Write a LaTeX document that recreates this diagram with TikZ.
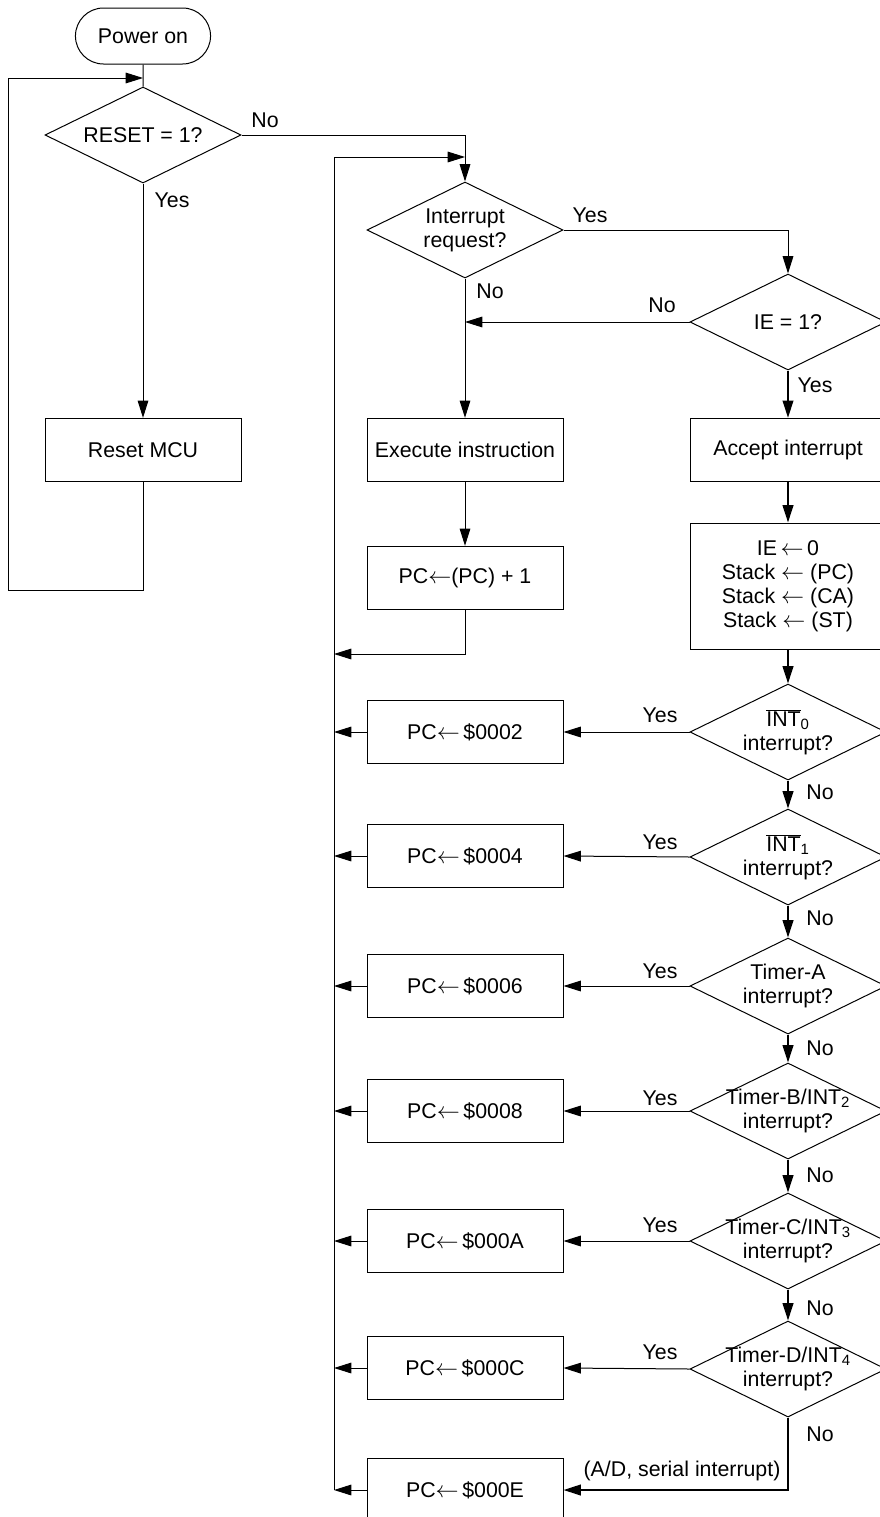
\documentclass[tikz,border=0pt]{standalone}
\usepackage{fontspec}
\setmainfont{Liberation Sans}
\usepackage{tikz}
\usetikzlibrary{arrows.meta, positioning, shapes.geometric, shapes.misc}
\tikzset {
  terminal/.style = {draw, rounded rectangle, minimum width=108pt, minimum height=42pt, line width=0.75pt},
  box/.style = {draw, rectangle, minimum width=147pt, minimum height=47.5pt, align=center, line width=0.75pt},
  decision/.style = {draw, diamond, aspect=2, inner sep=-10pt, minimum width=147pt, minimum height=72pt, align=center, line width=0.75pt},
  line/.style = {-{Triangle[length=13pt, width=8pt]}, line width=0.75pt},
  bline/.style = {line, line width=1.4pt},
  wire/.style = {line width=0.75pt},
  lbl/.style = {inner sep=0pt}
}

\begin{document}
\begin{tikzpicture}[x=0.75pt, y=-0.75pt, font=\fontsize{16}{18}\selectfont]
    \useasboundingbox (0,0) rectangle (879,1517);

    % reset part
    \node[terminal] (power) at (143,36) {Power on};
    \node[decision] (reset) at (143,135) {RESET = 1?};
    \node[box] (mcu) at (143,450) {Reset MCU};
    \coordinate (joinA) at (143,78);
    \coordinate (loopA) at (8,590);

    % main loop
    \node[decision] (request) at (465,230) {Interrupt\\request?};
    \node[box] (exec) at (465,450) {Execute instruction};
    \node[box] (pcinc) at (465,578) {PC$\leftarrow$(PC) + 1};
    \coordinate (busTop) at (334,157);
    \coordinate (busEnd) at (334,1490);
    \coordinate (joinB) at (334,654);

    % interrupt handling
    \node[decision] (ie) at (788,322) {IE = 1?};
    \node[box] (accept) at (788,450) {Accept interrupt};
    \node[box, minimum height=94.5pt] (stack) at (788,586) {IE\,$\leftarrow$\,0\\Stack $\leftarrow$ (PC)\\Stack $\leftarrow$ (CA)\\Stack $\leftarrow$ (ST)};

    \node[decision] (int0) at (788,732) {$\overline{\hbox{INT}}$\textsubscript{0}\\interrupt?};
    \node[decision] (int1) at (788,857) {$\overline{\hbox{INT}}$\textsubscript{1}\\interrupt?};
    \node[decision] (timerA) at (788,986) {Timer-A\\interrupt?};
    \node[decision] (timerB) at (788,1111) {Timer-B/INT\textsubscript{2}\\interrupt?};
    \node[decision] (timerC) at (788,1241) {Timer-C/INT\textsubscript{3}\\interrupt?};
    \node[decision] (timerD) at (788,1369) {Timer-D/INT\textsubscript{4}\\interrupt?};

    \node[box] (pc2) at (465,732) {PC$\leftarrow$\,\$0002};
    \node[box] (pc4) at (465,856) {PC$\leftarrow$\,\$0004};
    \node[box] (pc6) at (465,986) {PC$\leftarrow$\,\$0006};
    \node[box] (pc8) at (465,1111) {PC$\leftarrow$\,\$0008};
    \node[box] (pcA) at (465,1241) {PC$\leftarrow$\,\$000A};
    \node[box] (pcC) at (465,1368) {PC$\leftarrow$\,\$000C};
    \node[box] (pcE) at (465,1490) {PC$\leftarrow$\,\$000E};

    % labels
    \node[lbl] (noReset) at (265,120) {No};
    \node[lbl] (yesReset) at (172,200) {Yes};
    \node[lbl] (yesReq) at (590,215) {Yes};
    \node[lbl] (noReq) at (490,291) {No};
    \node[lbl] (noIE) at (662,305) {No};
    \node[lbl] (yesIE) at (815,385) {Yes};
    \node[lbl] (yes0) at (660,715) {Yes};
    \node[lbl] (yes1) at (660,842) {Yes};
    \node[lbl] (yesA) at (660,971) {Yes};
    \node[lbl] (yesB) at (660,1098) {Yes};
    \node[lbl] (yesC) at (660,1225) {Yes};
    \node[lbl] (yesD) at (660,1352) {Yes};
    \node[lbl] (no0) at (820,792) {No};
    \node[lbl] (no1) at (820,918) {No};
    \node[lbl] (noA) at (820,1048) {No};
    \node[lbl] (noB) at (820,1175) {No};
    \node[lbl] (noC) at (820,1308) {No};
    \node[lbl] (noD) at (820,1434) {No};
    \node[lbl] (serial) at (682,1471) {(A/D, serial interrupt)};

    % connectors
    \draw[wire] (power) -- (reset);
    \draw[line] (reset) -- (mcu);
    \draw[line] (mcu.south) |- (loopA) |- (joinA);
    \draw[line] (reset.east) -| (request.north);
    \draw[line] (busEnd) -- (busTop) -- (request.north |- busTop);
    \draw[line] (request.east) -| (ie.north);
    \draw[line] (request) -- (exec);
    \draw[line] (ie.west) -- (ie.west -| request.south);
    \draw[line] (exec) -- (pcinc);
    \draw[line] (pcinc.south) |- (joinB);

    \draw[bline] (ie) -- (accept);
    \draw[bline] (accept) -- (stack);
    \draw[bline] (stack) -- (int0);
    \draw[bline] (int0) -- (int1);
    \draw[bline] (int1) -- (timerA);
    \draw[bline] (timerA) -- (timerB);
    \draw[bline] (timerB) -- (timerC);
    \draw[bline] (timerC) -- (timerD);
    \draw[bline] (timerD.south) |- (pcE.east);

    \draw[line] (int0.west) -- (pc2.east);
    \draw[line] (int1.west) -- (pc4.east);
    \draw[line] (timerA.west) -- (pc6.east);
    \draw[line] (timerB.west) -- (pc8.east);
    \draw[line] (timerC.west) -- (pcA.east);
    \draw[line] (timerD.west) -- (pcC.east);

    \draw[line] (pc2.west) -- (pc2.west -| busTop);
    \draw[line] (pc4.west) -- (pc4.west -| busTop);
    \draw[line] (pc6.west) -- (pc6.west -| busTop);
    \draw[line] (pc8.west) -- (pc8.west -| busTop);
    \draw[line] (pcA.west) -- (pcA.west -| busTop);
    \draw[line] (pcC.west) -- (pcC.west -| busTop);
    \draw[line] (pcE.west) -- (busEnd);

\end{tikzpicture}
\end{document}
